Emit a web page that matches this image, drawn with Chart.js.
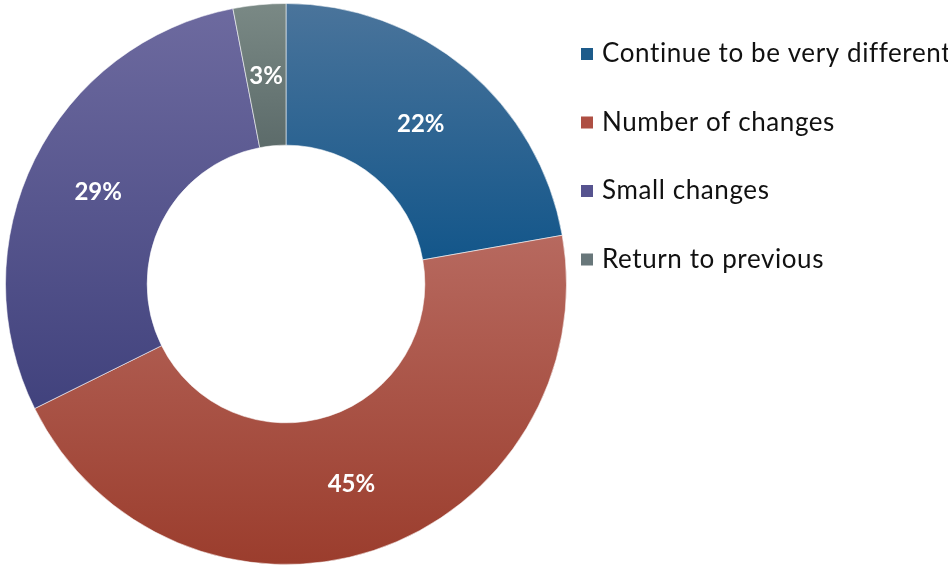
<!DOCTYPE html>
<html>
<head>
<meta charset="utf-8">
<script src="https://cdn.jsdelivr.net/npm/chart.js@4/dist/chart.umd.min.js"></script>
<style>
  html, body { margin: 0; padding: 0; background: #ffffff; overflow: hidden; }
  #wrap { width: 948px; height: 567px; position: relative; }
</style>
</head>
<body>
<div id="wrap"><canvas id="chart" width="948" height="567"></canvas></div>
<script>
// Survey answers and their shares (percent)
const categories = ['Continue to be very different', 'Number of changes', 'Small changes', 'Return to previous'];
const shares = [22, 45, 29, 3];

// Each slice fades from a lighter top to a darker bottom
const topColors = ['#4a749b', '#b7695f', '#6d6a9f', '#7a8985'];
const bottomColors = ['#13568a', '#9b3d2d', '#41427d', '#5c6b6a'];
const swatchColors = ['#1d5b8a', '#ae4f43', '#56538f', '#68777a'];

const FONT = 'Lato, "Open Sans", sans-serif';

// Vertical gradient spanning the slice's own top-to-bottom extent
function sliceGradient(ctx) {
  const chart = ctx.chart;
  const area = chart.chartArea;
  const i = ctx.dataIndex;
  if (!area || ctx.type !== 'data') return bottomColors[i];
  const ctrl = chart.getDatasetMeta(ctx.datasetIndex).controller;
  const ro = ctrl.outerRadius, ri = ctrl.innerRadius;
  if (!ro) return bottomColors[i];
  const cy = (area.top + area.bottom) / 2 + (ctrl.offsetY || 0);
  const total = shares.reduce((a, b) => a + b, 0);
  let start = -Math.PI / 2;
  for (let k = 0; k < i; k++) start += shares[k] / total * Math.PI * 2;
  const end = start + shares[i] / total * Math.PI * 2;
  const ys = [];
  [start, end].forEach(a => { ys.push(cy + Math.sin(a) * ro, cy + Math.sin(a) * ri); });
  for (let a = -Math.PI / 2; a <= Math.PI * 1.5 + 1e-9; a += Math.PI / 2) {
    if (a > start && a < end) ys.push(cy + Math.sin(a) * ro);
  }
  const minY = Math.min(...ys), maxY = Math.max(...ys);
  const g = chart.ctx.createLinearGradient(0, minY, 0, maxY);
  g.addColorStop(0, topColors[i]);
  g.addColorStop(1, bottomColors[i]);
  return g;
}

// Percent labels at the middle of each ring segment
const sliceLabels = {
  id: 'sliceLabels',
  afterDatasetsDraw(chart) {
    const c = chart.ctx;
    const meta = chart.getDatasetMeta(0);
    c.save();
    c.fillStyle = '#ffffff';
    c.font = 'bold 24px ' + FONT;
    c.textAlign = 'center';
    c.textBaseline = 'middle';
    meta.data.forEach((arc, i) => {
      const p = arc.tooltipPosition();
      c.fillText(chart.data.datasets[0].data[i] + '%', p.x, p.y + 1);
    });
    c.restore();
  }
};

// Legend column to the right of the ring
const sideLegend = {
  id: 'sideLegend',
  afterDraw(chart) {
    const c = chart.ctx;
    const x0 = 581, y0 = 54, step = 68.5, box = 12;
    c.save();
    c.font = '26px ' + FONT;
    if ('letterSpacing' in c) c.letterSpacing = '0.6px';
    c.textBaseline = 'middle';
    c.textAlign = 'left';
    chart.data.labels.forEach((lab, i) => {
      const y = y0 + i * step;
      c.fillStyle = swatchColors[i];
      c.fillRect(x0, y - box / 2, box, box);
      c.fillStyle = '#111111';
      c.fillText(lab, x0 + 21, y);
    });
    c.restore();
  }
};

new Chart(document.getElementById('chart'), {
  type: 'doughnut',
  data: {
    labels: categories,
    datasets: [{
      data: shares,
      backgroundColor: sliceGradient,
      borderColor: 'rgba(255,255,255,0.55)',
      borderWidth: 1,
      hoverOffset: 0,
      offset: 0
    }]
  },
  options: {
    responsive: false,
    animation: false,
    cutout: '49.5%',
    layout: { padding: { left: 5, top: 3, right: 381, bottom: 2 } },
    plugins: {
      legend: { display: false },
      tooltip: { enabled: false }
    }
  },
  plugins: [sliceLabels, sideLegend]
});
</script>
</body>
</html>
